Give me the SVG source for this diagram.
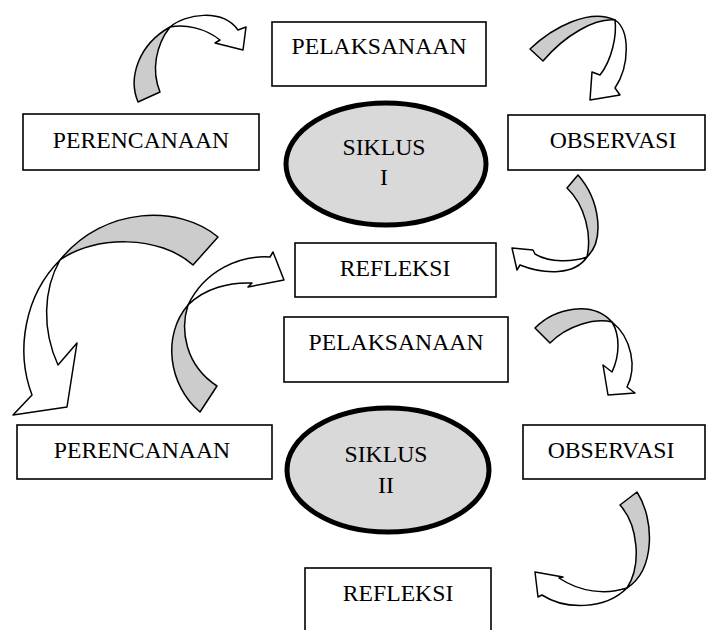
<svg xmlns="http://www.w3.org/2000/svg" width="710" height="630" viewBox="0 0 710 630">
<style>
.box{fill:#fff;stroke:#000;stroke-width:1.6}
.ell{fill:#d9d9d9;stroke:#000;stroke-width:5}
.t{font-family:"Liberation Serif","Times New Roman",serif;font-size:23.7px;fill:#000;text-anchor:middle}
.g{fill:#cccccc;stroke:#000;stroke-width:1.5;stroke-linejoin:round}
.w{fill:#fff;stroke:#000;stroke-width:1.5;stroke-linejoin:round}
</style>
<rect width="710" height="630" fill="#fff"/>
<g id="connectors">
  <g id="arrow1">
    <path class="g" d="M138,102 C128,78 138,45 170,27 C156,45 151,70 160,92 Z"/>
    <path class="w" d="M170,27 C185,14 222,8 238,30 L246,27 L243,50 L215,43 L220,40 C205,28 185,24 170,27 Z"/>
  </g>
  <g id="arrow2">
    <path class="g" d="M530,49 C553,27 590,8 615,20 C595,18 565,35 543,61 Z"/>
    <path class="w" d="M615,20 C630,30 630,65 615,88 L620,95 L590,100 L592,72 L600,75 C612,60 617,35 615,20 Z"/>
  </g>
  <g id="arrow3">
    <path class="g" d="M578,175 C600,200 605,240 587,257 C592,235 585,205 567,188 Z"/>
    <path class="w" d="M587,257 C575,275 545,275 520,265 L517,270 L512,248 L533,250 L535,254 C550,263 573,262 587,257 Z"/>
  </g>
  <g id="arrow4">
    <path class="g" d="M218,237 C180,205 105,205 60,260 C95,235 160,235 193,265 Z"/>
    <path class="w" d="M60,260 C25,295 15,350 32,395 L13,415 L67,407 L77,343 L58,365 C42,330 43,290 60,260 Z"/>
  </g>
  <g id="arrow5">
    <path class="g" d="M200,412 C168,385 162,335 188,305 C180,330 185,365 217,386 Z"/>
    <path class="w" d="M188,305 C205,270 240,255 270,257 L273,252 L284,280 L248,287 L252,283 C230,282 205,288 188,305 Z"/>
  </g>
  <g id="arrow6">
    <path class="g" d="M535,328 C555,308 592,300 612,322 C595,318 568,325 550,343 Z"/>
    <path class="w" d="M612,322 C632,338 637,368 627,387 L635,393 L608,395 L603,365 L612,372 C620,355 620,335 612,322 Z"/>
  </g>
  <g id="arrow7">
    <path class="g" d="M637,492 C655,520 655,570 627,588 C642,565 638,525 620,505 Z"/>
    <path class="w" d="M627,588 C605,610 565,610 542,595 L538,597 L535,572 L563,577 L559,578 C580,592 605,595 627,588 Z"/>
  </g>
</g>
<g id="pelaksanaan1"><rect class="box" x="272" y="22" width="214" height="64"/><text class="t" x="379" y="54">PELAKSANAAN</text></g>
<g id="perencanaan1"><rect class="box" x="23" y="114" width="236" height="56"/><text class="t" x="141" y="148">PERENCANAAN</text></g>
<g id="siklus1"><ellipse class="ell" cx="386" cy="164" rx="100" ry="61"/><text class="t" x="384" y="155">SIKLUS</text><text class="t" x="384" y="185">I</text></g>
<g id="observasi1"><rect class="box" x="508" y="115" width="197" height="55"/><text class="t" x="613" y="148">OBSERVASI</text></g>
<g id="refleksi1"><rect class="box" x="295" y="243" width="201" height="54"/><text class="t" x="395" y="276">REFLEKSI</text></g>
<g id="pelaksanaan2"><rect class="box" x="284" y="317" width="224" height="65"/><text class="t" x="396" y="350">PELAKSANAAN</text></g>
<g id="perencanaan2"><rect class="box" x="17" y="425" width="255" height="54"/><text class="t" x="142" y="458">PERENCANAAN</text></g>
<g id="siklus2"><ellipse class="ell" cx="388" cy="470" rx="101" ry="62"/><text class="t" x="386" y="462">SIKLUS</text><text class="t" x="386" y="493">II</text></g>
<g id="observasi2"><rect class="box" x="523" y="425" width="182" height="54"/><text class="t" x="611" y="458">OBSERVASI</text></g>
<g id="refleksi2"><rect class="box" x="305" y="568" width="186" height="64"/><text class="t" x="398" y="601">REFLEKSI</text></g>
</svg>
